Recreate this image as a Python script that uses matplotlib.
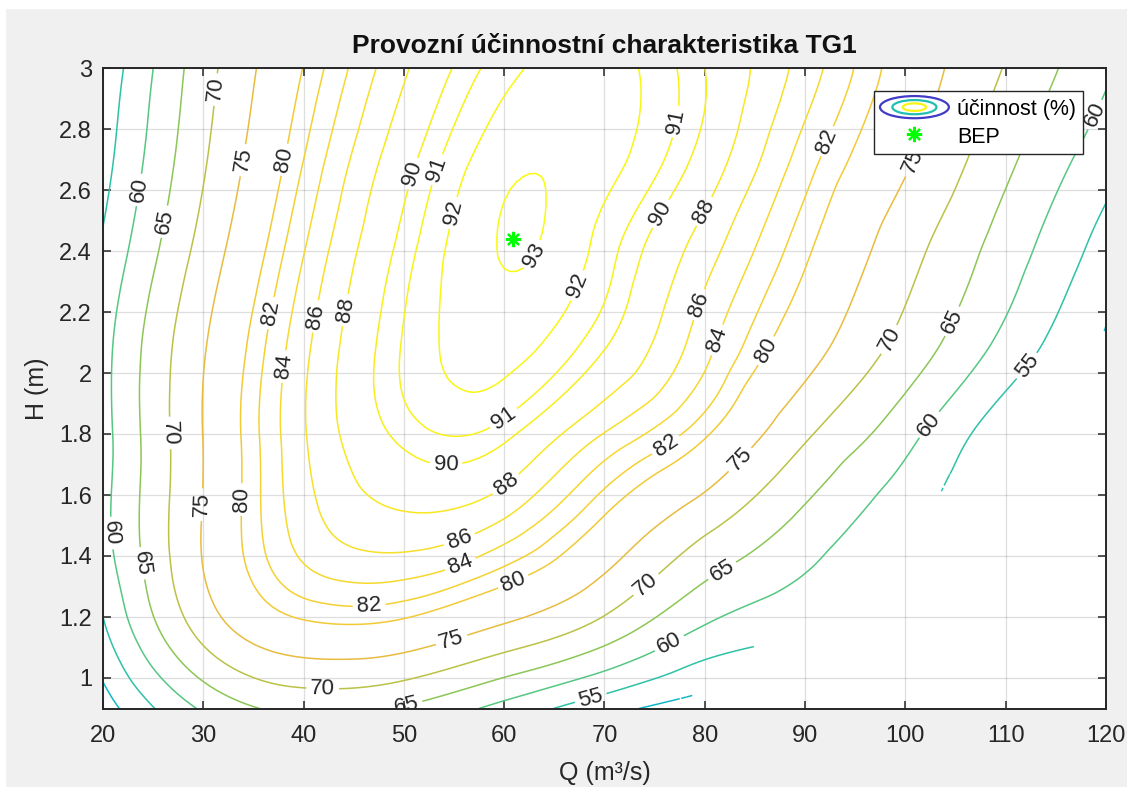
import numpy as np
import matplotlib
matplotlib.use("Agg")
import matplotlib.pyplot as plt
import matplotlib.tri as mtri
from matplotlib.colors import LinearSegmentedColormap, Normalize
from matplotlib.legend_handler import HandlerBase
from matplotlib.patches import Ellipse, Rectangle
from matplotlib.lines import Line2D
from matplotlib.ticker import FormatStrFormatter

plt.rcParams["font.family"] = ["Liberation Sans", "DejaVu Sans"]

# -----------------------------
# Data
# -----------------------------
Q_NODES = [20, 30, 40, 50, 60, 70, 80, 90, 100, 110, 120]
H_NODES = [0.9, 1.2, 1.5, 1.8, 2.1, 2.4, 2.7, 3.0]

# efficiency (%) on each H row, one value per Q node
EFF_H090 = [47.5, 60.7, 66.3, 64.5, 58.3, 51.8, 47.5, 45.5, 44.0, 42.0, 40.0]
EFF_H120 = [55.0, 72.8, 80.3, 80.2, 76.0, 69.8, 61.0, 56.5, 51.0, 47.0, 44.0]
EFF_H150 = [58.6, 75.3, 85.0, 87.4, 85.5, 79.2, 71.2, 63.4, 56.2, 49.5, 45.0]
EFF_H180 = [58.2, 75.1, 85.8, 90.4, 90.4, 85.9, 80.4, 70.8, 61.75, 52.0, 47.0]
EFF_H210 = [58.2, 74.5, 85.4, 91.1, 92.45, 90.2, 84.8, 77.3, 68.4, 58.6, 49.5]
EFF_H240 = [55.8, 71.9, 83.9, 90.5, 93.05, 91.5, 86.9, 80.5, 71.9, 62.6, 52.8]
EFF_H270 = [53.2, 69.4, 82.0, 89.35, 92.7, 92.4, 89.3, 83.0, 75.7, 66.2, 57.1]
EFF_H300 = [51.5, 67.9, 80.1, 87.7, 91.6, 92.45, 90.0, 85.1, 78.2, 69.7, 60.8]

# lower-right limit of the valid operating region (no data below it)
BOUND_Q = [70.0, 78.5, 87.8, 103.6, 119.5, 120.0]
BOUND_H = [0.75, 0.943, 1.176, 1.625, 2.13, 2.15]

LEVELS = [50, 55, 60, 65, 70, 75, 80, 82, 84, 86, 88, 90, 91, 92, 93]

# best efficiency point
BEP_Q = 60.9
BEP_H = 2.44

# where the contour labels sit
LABEL_Q = [31.0, 33.5, 38.0, 23.6, 25.5, 50.8, 53.3, 54.9, 62.6, 67.6,
           36.65, 41.3, 44.1, 38.4, 26.4, 29.8, 34.1, 20.7, 24.1, 59.7,
           54.2, 60.6, 55.6, 55.8, 46.5, 61.1, 54.9, 41.9, 50.2, 76.2,
           92.6, 100.9, 118.7, 76.2, 80.5, 79.8, 81.1, 85.9, 97.8, 104.3,
           111.5, 76.3, 83.7, 102.6, 74.4, 82.2, 76.6, 68.7]
LABEL_H = [2.93, 2.70, 2.70, 2.60, 2.50, 2.655, 2.667, 2.525, 2.393, 2.282,
           2.197, 2.185, 2.207, 2.02, 1.803, 1.568, 1.585, 1.475, 1.377, 1.863,
           1.694, 1.617, 1.447, 1.36, 1.257, 1.30, 1.109, 0.967, 0.918, 2.83,
           2.754, 2.69, 2.85, 2.51, 2.52, 2.22, 2.11, 2.077, 2.12, 2.175,
           2.04, 1.754, 1.71, 1.825, 1.296, 1.327, 1.105, 0.925]

# -----------------------------
# Colour map (parula-like)
# -----------------------------
parula = LinearSegmentedColormap.from_list("parula", [
    (0.000, (0.2422, 0.1504, 0.6603)),
    (0.127, (0.2780, 0.3700, 0.9800)),
    (0.254, (0.1400, 0.5800, 0.9300)),
    (0.381, (0.0300, 0.7000, 0.8200)),
    (0.508, (0.2200, 0.7800, 0.6000)),
    (0.635, (0.6100, 0.7750, 0.2900)),
    (0.762, (0.9300, 0.7350, 0.2450)),
    (0.889, (0.9700, 0.8600, 0.1700)),
    (1.000, (0.9763, 0.9831, 0.0538)),
])
norm = Normalize(vmin=20, vmax=93.3)


class ContourIcon(HandlerBase):
    def create_artists(self, legend, orig_handle, xdescent, ydescent,
                       width, height, fontsize, trans):
        cx = -xdescent + width / 2
        cy = -ydescent + height / 2
        rings = [(1.0, parula(0.05)), (0.64, parula(0.45)), (0.34, parula(0.98))]
        out = []
        for frac, col in rings:
            out.append(Ellipse((cx, cy), width * frac, height * 1.15 * frac,
                               fill=False, edgecolor=col, lw=1.6, transform=trans))
        return out


# -----------------------------
# Smooth field from the table
# -----------------------------
EFF = np.array([EFF_H090, EFF_H120, EFF_H150, EFF_H180,
                EFF_H210, EFF_H240, EFF_H270, EFF_H300])
uu, vv = np.meshgrid(np.arange(len(Q_NODES)), np.arange(len(H_NODES)))
tri = mtri.Triangulation(uu.ravel().astype(float), vv.ravel().astype(float))
interp = mtri.CubicTriInterpolator(tri, EFF.ravel(), kind="min_E")
tri_r, z_r = mtri.UniformTriRefiner(tri).refine_field(EFF.ravel(), triinterpolator=interp, subdiv=4)
q_r = np.interp(tri_r.x, np.arange(len(Q_NODES)), Q_NODES)
h_r = np.interp(tri_r.y, np.arange(len(H_NODES)), H_NODES)
tri_plot = mtri.Triangulation(q_r, h_r, tri_r.triangles)
cq = q_r[tri_r.triangles].mean(axis=1)
ch = h_r[tri_r.triangles].mean(axis=1)
tri_plot.set_mask(ch < np.interp(cq, BOUND_Q, BOUND_H))

# -----------------------------
# Figure
# -----------------------------
fig = plt.figure(figsize=(11.27, 7.87), dpi=100, facecolor="#f0f0f0")
fig.add_artist(Rectangle((0, 1 - 8 / 787), 1, 8 / 787, transform=fig.transFigure,
                         color="white", zorder=0))
fig.add_artist(Rectangle((0, 0), 5 / 1127, 1, transform=fig.transFigure,
                         color="white", zorder=0))

ax = fig.add_axes([103 / 1127, 1 - 708.5 / 787, 1003 / 1127, 640.5 / 787])
ax.set_facecolor("white")
ax.set_xlim(20, 120)
ax.set_ylim(0.9, 3.0)

cs = ax.tricontour(tri_plot, z_r, levels=LEVELS, cmap=parula, norm=norm, linewidths=1.1)
ax.clabel(cs, manual=list(zip(LABEL_Q, LABEL_H)), inline=True, fontsize=16,
          fmt="%g", colors="#262626", inline_spacing=4)

bep, = ax.plot([BEP_Q], [BEP_H], ls="none", marker=(8, 2, 0), ms=11,
               mec=(0, 1, 0), mew=1.6, label="BEP")

ax.set_xticks(np.arange(20, 121, 10))
ax.set_yticks(np.arange(1.0, 3.01, 0.2))
ax.yaxis.set_major_formatter(FormatStrFormatter("%g"))
ax.grid(True, color="#262626", alpha=0.15, lw=0.9)
ax.tick_params(direction="in", length=6, width=1.1, top=True, right=True,
               labelsize=17, colors="#262626")
ax.tick_params(axis="x", pad=12)
ax.tick_params(axis="y", pad=8)
for s in ax.spines.values():
    s.set_color("#262626")
    s.set_linewidth(1.4)

ax.set_title("Provozní účinnostní charakteristika TG1", fontsize=19,
             fontweight="bold", color="#111111", pad=11)
ax.set_xlabel("Q (m³/s)", fontsize=18, color="#262626", labelpad=10)
ax.set_ylabel("H (m)", fontsize=18, color="#262626", labelpad=7)

proxy = Line2D([], [], label="účinnost (%)")
leg = ax.legend(handles=[proxy, bep], handler_map={proxy: ContourIcon()},
                loc="upper right", bbox_to_anchor=(0.977, 0.964), borderaxespad=0,
                fontsize=15.5, fancybox=False, framealpha=1, edgecolor="#262626",
                handlelength=3.2, handleheight=1.0, handletextpad=0.4,
                borderpad=0.3, labelspacing=0.3)
leg.get_frame().set_linewidth(1.0)

fig.savefig("out.png", dpi=100, facecolor=fig.get_facecolor())
